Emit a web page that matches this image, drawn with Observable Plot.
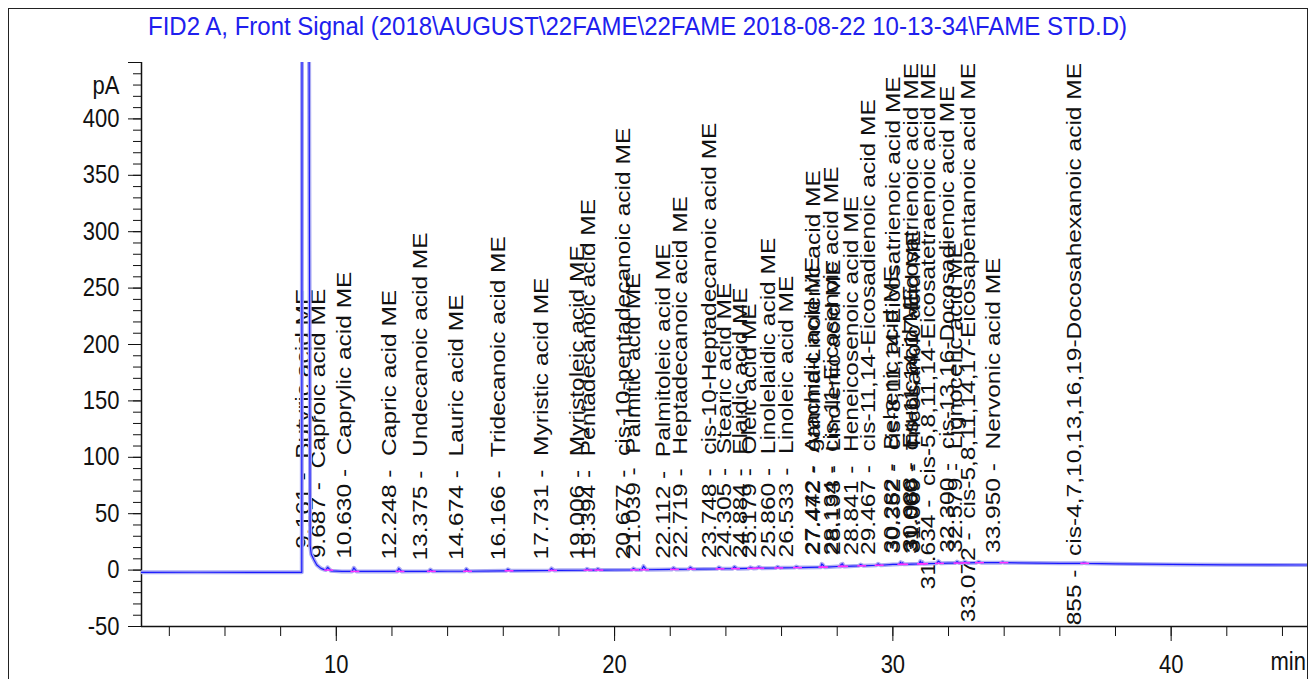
<!DOCTYPE html>
<html><head><meta charset="utf-8">
<script src="https://cdn.jsdelivr.net/npm/d3@7"></script>
<script src="https://cdn.jsdelivr.net/npm/@observablehq/plot@0.6"></script>
<style>
html,body{margin:0;padding:0;background:#fff;}
#wrap{position:relative;width:1310px;height:679px;overflow:hidden;font-family:"Liberation Sans",Arial,sans-serif;}
#frame{position:absolute;left:8px;top:8px;width:1300px;height:700px;border:1.5px solid #222;border-bottom:none;box-sizing:border-box;pointer-events:none;}
#title{position:absolute;left:148px;top:14px;font-size:25px;line-height:1;color:#2020ee;white-space:nowrap;transform-origin:0 0;}
#chart{position:absolute;left:0;top:0;}
</style></head><body>
<div id="wrap"><div id="chart"></div><div id="title"></div><div id="frame"></div></div>
<script>
const titleText = "FID2 A, Front Signal (2018\\AUGUST\\22FAME\\22FAME 2018-08-22 10-13-34\\FAME STD.D)";

// Peak table (retention time in min, name, baseline pA, apex pA)
const peakRT = [9.161, 9.687, 10.630, 12.248, 13.375, 14.674, 16.166, 17.731, 19.006, 19.394,
  20.677, 21.039, 22.112, 22.719, 23.748, 24.305, 24.884, 25.179, 25.860, 26.533,
  27.442, 27.472, 28.134, 28.193, 28.841, 29.467, 30.282, 30.352, 30.988, 31.000,
  31.069, 31.634, 32.300, 32.579, 33.072, 33.950, 36.855];
const peakRTText = ["9.161", "9.687", "10.630", "12.248", "13.375", "14.674", "16.166", "17.731", "19.006", "19.394",
  "20.677", "21.039", "22.112", "22.719", "23.748", "24.305", "24.884", "25.179", "25.860", "26.533",
  "27.442", "27.472", "28.134", "28.193", "28.841", "29.467", "30.282", "30.352", "30.988", "31.000",
  "31.069", "31.634", "32.300", "32.579", "33.072", "33.950", "36.855"];
const peakName = ["Butyric acid ME", "Caproic acid ME", "Caprylic acid ME", "Capric acid ME", "Undecanoic acid ME",
  "Lauric acid ME", "Tridecanoic acid ME", "Myristic acid ME", "Myristoleic acid ME", "Pentadecanoic acid ME",
  "cis-10-pentadecanoic acid ME", "Palmitic acid ME", "Palmitoleic acid ME", "Heptadecanoic acid ME",
  "cis-10-Heptadecanoic acid ME", "Stearic acid ME", "Elaidic acid ME", "Oleic acid ME", "Linolelaidic acid ME",
  "Linoleic acid ME", "Arachidic acid ME", "gamma-Linolenic acid ME", "cis-11-Eicosenoic acid ME",
  "Linolenic acid ME", "Heneicosenoic acid ME", "cis-11,14-Eicosadienoic acid ME", "Behenic acid ME",
  "cis-8,11,14-Eicosatrienoic acid ME", "Erucic acid ME", "cis-11,14,17-Eicosatrienoic acid ME",
  "Tricosanoic acid ME", "cis-5,8,11,14-Eicosatetraenoic acid ME", "cis-13,16-Docosadienoic acid ME",
  "Lignoceric acid ME", "cis-5,8,11,14,17-Eicosapentanoic acid ME", "Nervonic acid ME",
  "cis-4,7,10,13,16,19-Docosahexanoic acid ME"];
const peakBase = [11, 0, -1.2, -1.2, -1.1, -1, -0.6, -0.3, 0, 0,
  0.2, 0.3, 0.6, 0.8, 1.1, 1.3, 1.5, 1.7, 1.9, 2.2,
  2.6, 2.6, 3.3, 3.3, 3.8, 4.3, 5.1, 5.1, 5.6, 5.6,
  5.7, 6.0, 6.2, 6.4, 6.6, 6.6, 6.0];
const peakApex = [11, 2.5, 2, 1.5, 0.5, 1, 0.8, 1.5, 1.2, 1.2,
  1.5, 3.5, 2, 2.5, 2.5, 3, 2.5, 2.8, 3, 3.2,
  5.5, 5, 5, 5.5, 5, 5.5, 7, 6.5, 8, 7.5,
  7, 8, 7.5, 7.5, 7.5, 7.2, 6.5];

// Signal drift / solvent peak points (min, pA)
const driftT = [3, 5, 7, 8.76, 8.77, 9.01, 9.06, 9.1, 9.2, 9.3, 9.45, 9.56, 9.8, 10.2, 12, 14, 16, 18, 20,
  22, 24, 26, 28, 30, 32, 34, 36, 38, 40, 42, 44.9];
const driftV = [-2, -1.9, -2, -2, 600, 600, 22, 14, 9, 4.5, 1.5, 0.4, -0.6, -1.2, -1.2, -1, -0.6, -0.2, 0.1,
  0.6, 1.2, 2, 3.2, 5, 6.2, 6.6, 6, 5.6, 5, 4.7, 4.5];

// Axis ticks
const yMajor = [-50, 0, 50, 100, 150, 200, 250, 300, 350, 400, 450];
const yMinor = d3.range(-50, 451, 10);
const xMajor = [10, 20, 30, 40];
const xMinor = d3.range(4, 45, 2);

const SEP = " -  ";
const peaks = peakRT.map((rt, i) => ({rt, label: peakRTText[i] + SEP + peakName[i], base: peakBase[i], apex: peakApex[i]}));
const trace = driftT.map((t, i) => ({t, v: driftV[i]}));
peaks.forEach(p => {
  if (p.apex > p.base) trace.push({t: p.rt - 0.06, v: p.base}, {t: p.rt, v: p.apex}, {t: p.rt + 0.1, v: p.base});
});
trace.sort((a, b) => a.t - b.t);

const FONT = '"Liberation Sans", Arial, sans-serif';
const plot = Plot.plot({
  width: 1310, height: 679,
  marginLeft: 141, marginRight: 3, marginTop: 62, marginBottom: 53,
  x: {domain: [3, 44.9]},
  y: {domain: [-50, 450]},
  style: {fontFamily: FONT, color: "#111", background: "transparent"},
  marks: [
    Plot.axisY({ticks: yMinor, tickSize: 8, tickFormat: () => "", label: null, stroke: "#111"}),
    Plot.axisY({ticks: yMajor, tickSize: 13, tickPadding: 9, fontSize: 25, label: null, stroke: "#111",
      tickFormat: d => d === 450 ? "" : String(d)}),
    Plot.axisX({ticks: xMinor, tickSize: 10, tickFormat: () => "", label: null, stroke: "#111"}),
    Plot.axisX({ticks: xMajor, tickSize: 15, tickPadding: 14, fontSize: 25, label: null, stroke: "#111"}),
    Plot.ruleX([3], {stroke: "#111", strokeWidth: 1.5}),
    Plot.ruleY([-50], {stroke: "#111", strokeWidth: 1.5}),
    Plot.text(peaks, {x: "rt", y: "apex", text: "label", rotate: -90, textAnchor: "start", lineAnchor: "bottom",
      dx: -3, dy: -9, fontSize: 20, fill: "#111", clip: true}),
    Plot.line(trace, {x: "t", y: "v", stroke: "#acacf2", strokeWidth: 4, clip: true}),
    Plot.line(trace, {x: "t", y: "v", stroke: "#1a1aff", strokeWidth: 1.2, clip: true}),
    Plot.link(peaks.filter(p => p.apex > p.base), {x1: d => d.rt - 0.12, x2: d => d.rt + 0.2, y1: "base", y2: "base",
      stroke: "#ff33ff", strokeWidth: 1.5, clip: true}),
    Plot.text(["pA"], {frameAnchor: "top-left", dx: -22, dy: 14, textAnchor: "end", fontSize: 25, fill: "#111"}),
    Plot.text(["min"], {frameAnchor: "bottom-right", dx: -37, dy: 43, textAnchor: "start", fontSize: 25, fill: "#111"})
  ]
});
document.getElementById("chart").append(plot);

const svgTop = plot.getBoundingClientRect().top;
const axisTexts = new Set(["pA", "min", ...yMajor.map(String), ...xMajor.map(String)]);
plot.querySelectorAll("text").forEach(el => {
  const s = el.textContent;
  const t = el.getAttribute("transform") || "";
  if (s.includes(SEP)) {
    // peak labels: stretched along the text, pushed down when they would leave the plot top
    el.setAttribute("transform", t + " scale(1.225,1)");
    const r = el.getBoundingClientRect();
    const yTop = r.top - svgTop;
    const limit = 63;
    if (yTop < limit) {
      const d = limit - yTop;
      el.setAttribute("transform", el.getAttribute("transform")
        .replace(/translate\(([^,]+),([^)]+)\)/, (m, a, b) => `translate(${a},${+b + d})`));
    }
  } else if (axisTexts.has(s)) {
    el.setAttribute("transform", t + " scale(0.88,1)");
  }
});

const title = document.getElementById("title");
title.textContent = titleText;
const tw = title.getBoundingClientRect().width;
title.style.transform = `scaleX(${979 / tw})`;
</script>
</body></html>
